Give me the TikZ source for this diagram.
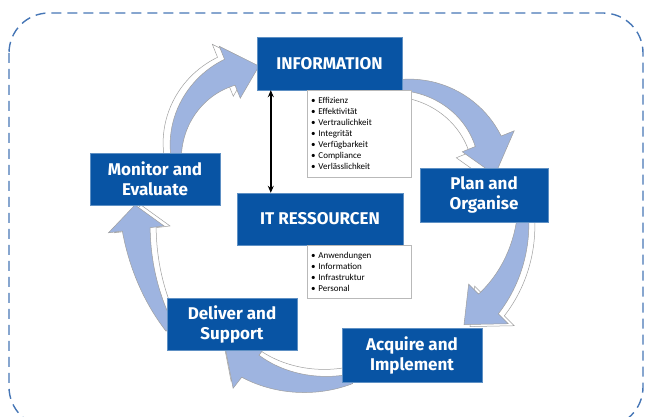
\documentclass[tikz,border=0pt]{standalone}
\usepackage{fontspec}
\setmainfont{Carlito}
\newfontfamily\boxfont{Fira Sans}
\usetikzlibrary{positioning,arrows.meta}
\definecolor{cobitblue}{RGB}{8,84,164}
\definecolor{ringblue}{RGB}{158,180,224}
\definecolor{framedash}{RGB}{70,118,182}
\newcommand{\ringarrow}[7]{%
  \filldraw[#1,shift={#2}]
    plot[domain=#5:#6,samples=30] ({(#3+5+9*(\x-(#5))/((#6)-(#5)))*cos(\x)},{(#4+5+9*(\x-(#5))/((#6)-(#5)))*sin(\x)})
    -- ({(#3+28)*cos(#6)},{(#4+28)*sin(#6)}) -- ({#3*cos(#7)},{#4*sin(#7)}) -- ({(#3-28)*cos(#6)},{(#4-28)*sin(#6)})
    -- plot[domain=#6:#5,samples=30] ({(#3-5-9*(\x-(#5))/((#6)-(#5)))*cos(\x)},{(#4-5-9*(\x-(#5))/((#6)-(#5)))*sin(\x)})
    -- cycle;
}
\begin{document}
\begin{tikzpicture}[x=1pt,y=1pt,
  phasebox/.style={draw=cobitblue!65!white,fill=cobitblue,text=white,align=center,inner sep=0pt,
    minimum height=53pt,font=\boxfont\bfseries\fontsize{17}{20}\selectfont},
  attrbox/.style={draw=gray!55,fill=white,anchor=north west,align=left,text width=96pt,
    inner xsep=4pt,inner ysep=5pt,font=\fontsize{9}{11}\selectfont},
  ringbody/.style={fill=ringblue,draw=gray!75,line width=0.5pt},
  ringside/.style={fill=white,draw=gray!75,line width=0.5pt,shift={#1}}]
  \useasboundingbox (0,0) rectangle (646,417);
  \draw[framedash,dash pattern=on 10pt off 6pt,line width=1.4pt,rounded corners=40pt] (9,404) rectangle (643,-10);
  \ringarrow{ringside={(-7,2)}}{(262,265)}{86}{86}{185}{112}{92}
  \ringarrow{ringbody}{(262,265)}{86}{86}{185}{112}{92}
  \ringarrow{ringside={(-6,-6)}}{(402,242)}{93}{90}{95}{22}{0}
  \ringarrow{ringbody}{(402,242)}{93}{90}{95}{22}{0}
  \ringarrow{ringside={(6,-2)}}{(405,205)}{118}{130}{2}{-45}{-60}
  \ringarrow{ringbody}{(405,205)}{118}{130}{2}{-45}{-60}
  \ringarrow{ringside={(-2,7)}}{(315,117)}{105}{84}{-70}{-128}{-150}
  \ringarrow{ringbody}{(315,117)}{105}{84}{-70}{-128}{-150}
  \ringarrow{ringside={(6,0)}}{(300,212)}{165}{200}{218}{187}{180}
  \ringarrow{ringbody}{(300,212)}{165}{200}{218}{187}{180}
  \node[phasebox,minimum width=145pt] (info) at (329.5,353.5) {INFORMATION};
  \node[phasebox,minimum width=166pt,minimum height=52pt] (res) at (320,198) {IT RESSOURCEN};
  \node[phasebox,minimum width=130pt,minimum height=52pt] (mon) at (155,238) {Monitor and\\Evaluate};
  \node[phasebox,minimum width=128pt,minimum height=54pt] (plan) at (484,222) {Plan and\\Organise};
  \node[phasebox,minimum width=130pt,minimum height=52pt] (deliv) at (232,93) {Deliver and\\Support};
  \node[phasebox,minimum width=140pt,minimum height=54pt] (acq) at (412,62) {Acquire and\\Implement};
  \node[attrbox,minimum height=87pt] (infolist) at ([xshift=50pt]info.south west)
    {\textbullet\ Effizienz\\\textbullet\ Effektivität\\\textbullet\ Vertraulichkeit\\\textbullet\ Integrität\\
     \textbullet\ Verfügbarkeit\\\textbullet\ Compliance\\\textbullet\ Verlässlichkeit};
  \node[attrbox,minimum height=53pt] (reslist) at ([xshift=70pt]res.south west)
    {\textbullet\ Anwendungen\\\textbullet\ Information\\\textbullet\ Infrastruktur\\\textbullet\ Personal};
  \draw[{Stealth[length=7pt,width=6pt]}-{Stealth[length=7pt,width=6pt]},line width=1.6pt]
    ([xshift=14pt]info.south west) coordinate (top) -- (top |- res.north);
\end{tikzpicture}
\end{document}
